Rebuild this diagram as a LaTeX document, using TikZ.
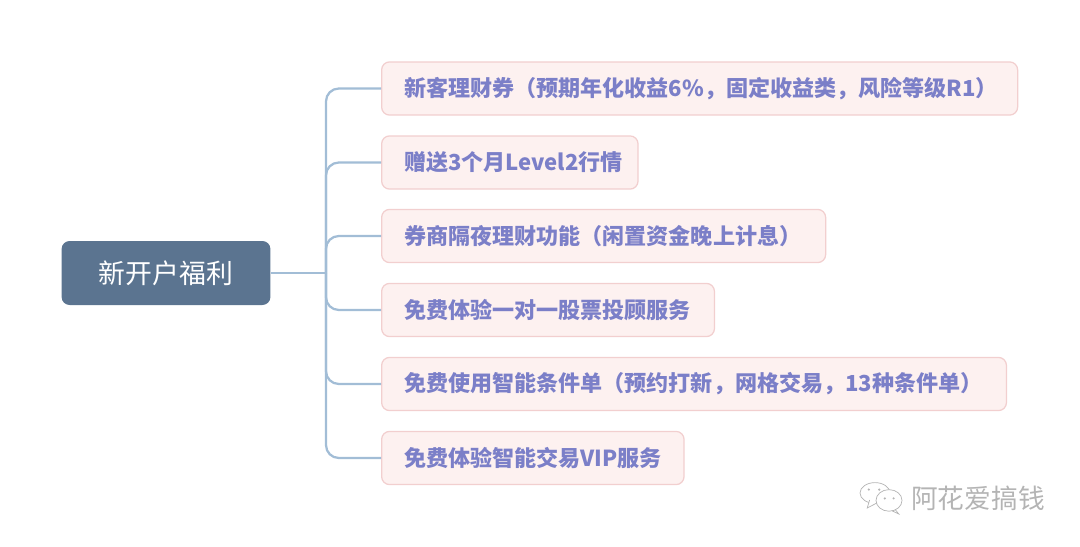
\documentclass[tikz,border=0pt]{standalone}
\usepackage{fontspec}
\setmainfont{Noto Sans CJK SC}
\definecolor{rootfill}{HTML}{5B7490}
\definecolor{linkblue}{HTML}{A2BDD6}
\definecolor{itemfill}{HTML}{FDF1F0}
\definecolor{itemline}{HTML}{F2CFCF}
\definecolor{itemtext}{HTML}{7B7FC8}
\definecolor{markgray}{HTML}{B4B4B4}
\tikzset{
rootbox/.style={
fill=rootfill,
rounded corners=0.2cm,
text=white,
font=\fontsize{19.1}{23}\selectfont,
minimum width=5.22cm,
minimum height=1.6cm
},
itembox/.style={
draw=itemline,
line width=0.9pt,
fill=itemfill,
rounded corners=0.2cm,
text=itemtext,
font=\fontsize{15.7}{19}\selectfont\bfseries,
anchor=west,
align=left,
inner xsep=0.56cm,
text width=#1cm-1.12cm,
minimum height=1.33cm
},
link/.style={
draw=linkblue,
line width=1.6pt,
rounded corners=0.32cm
},
bubble/.style={
draw=markgray,
line width=0.5pt,
fill=white
}
}
\begin{document}
\begin{tikzpicture}
\useasboundingbox (0,0) rectangle (27,-13.65);

\node[rootbox] (R) at (4.15,-6.825)
{新开户福利};

\node[itembox=15.9] (A) at (9.525,-2.2125)
{新客理财券（预期年化收益6\%，固定收益类，风险等级R1）};

\node[itembox=6.41] (B) at (9.525,-4.0625)
{赠送3个月Level2行情};

\node[itembox=11.1] (C) at (9.525,-5.9)
{券商隔夜理财功能（闲置资金晚上计息）};

\node[itembox=8.32] (D) at (9.525,-7.75)
{免费体验一对一股票投顾服务};

\node[itembox=15.62] (E) at (9.525,-9.6)
{免费使用智能条件单（预约打新，网格交易，13种条件单）};

\node[itembox=7.56] (F) at (9.525,-11.45)
{免费体验智能交易VIP服务};

\coordinate (J) at (8.15,-6.825);

\draw[link] (R) -- (J);
\foreach \n in {A,B,C,D,E,F}
\draw[link] (J) |- (\n.west);

% watermark
\node[text=markgray,font=\fontsize{19}{23}\selectfont] (W) at (24.45,-12.45)
{阿花爱搞钱};
\draw[bubble] (21.875,-12.325) ellipse (0.375cm and 0.26cm);
\draw[bubble] (21.74,-12.5) -- (21.68,-12.7) -- (21.95,-12.56);
\draw[bubble] (22.225,-12.51) ellipse (0.325cm and 0.27cm);
\draw[bubble,fill=none] (22.38,-12.74) -- (22.47,-12.85) -- (22.3,-12.77);
\fill[markgray] (21.72,-12.24) circle (0.03cm) (21.98,-12.24) circle (0.03cm)
(22.12,-12.46) circle (0.03cm) (22.34,-12.46) circle (0.03cm);
\end{tikzpicture}
\end{document}
